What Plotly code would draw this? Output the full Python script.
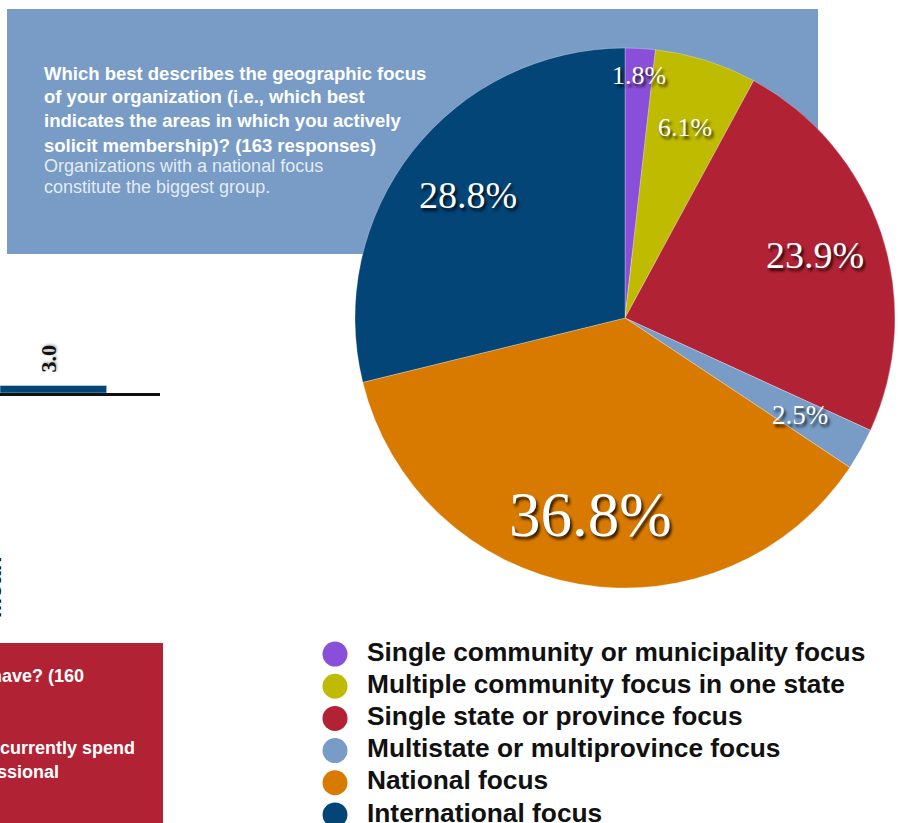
import math
import plotly.graph_objects as go

# geographic focus question, share of 163 responses (%)
labels = [
    "Single community or municipality focus",
    "Multiple community focus in one state",
    "Single state or province focus",
    "Multistate or multiprovince focus",
    "National focus",
    "International focus",
]
values = [1.8, 6.1, 23.9, 2.5, 36.8, 28.8]
colors = ["#8a4fd8", "#bfbb00", "#b22235", "#789cc6", "#d97a00", "#034577"]

# fragment of the neighbouring bar chart
side_bar_value = [3.0]

W, H = 901, 823
CX, CY, R = 625, 318, 270  # pie centre / radius in pixels


def px(x):
    return x / W


def py(y):
    return 1 - y / H


fig = go.Figure()

fig.add_trace(go.Pie(
    labels=labels,
    values=values,
    sort=False,
    direction="clockwise",
    rotation=0,
    marker=dict(colors=colors, line=dict(color="rgba(255,255,255,0.35)", width=0.8)),
    textinfo="none",
    hoverinfo="label+percent",
    showlegend=False,
    domain=dict(x=[px(CX - R), px(CX + R)], y=[py(CY + R), py(CY - R)]),
))

# percentage labels placed on each slice's mid angle
label_sizes = [26, 26, 38, 27, 63, 38]
label_radius = [0.9, 0.74, 0.74, 0.74, 0.74, 0.74]
total = sum(values)
cum = 0
for v, fs, fr in zip(values, label_sizes, label_radius):
    mid = (cum + v / 2) / total * 2 * math.pi
    cum += v
    x = CX + fr * R * math.sin(mid)
    y = CY - fr * R * math.cos(mid)
    fig.add_annotation(
        x=px(x), y=py(y), xref="paper", yref="paper",
        xanchor="center", yanchor="middle",
        text=f"{v:.1f}%", showarrow=False,
        font=dict(family="Liberation Serif", size=fs, color="white",
                  shadow="2px 3px 3px rgba(0,0,0,0.8)"),
    )

# custom legend with big round markers
fig.add_trace(go.Scatter(
    x=[35] * len(labels), y=list(range(len(labels))),
    mode="markers", marker=dict(size=25, color=colors),
    xaxis="x2", yaxis="y2", showlegend=False, hoverinfo="skip",
))
fig.add_trace(go.Scatter(
    x=[67] * len(labels), y=list(range(len(labels))),
    mode="text", text=labels, textposition="middle right",
    textfont=dict(family="Liberation Sans", size=26.3, color="#111111", weight="bold"),
    xaxis="x2", yaxis="y2", showlegend=False, hoverinfo="skip",
))

# neighbouring bar chart fragment
fig.add_trace(go.Bar(
    x=[0.5], y=side_bar_value, width=1,
    marker=dict(color="#034577"),
    xaxis="x3", yaxis="y3", showlegend=False, hoverinfo="skip",
))
fig.add_annotation(
    x=0.45, y=side_bar_value[0], xref="x3", yref="y3",
    xanchor="center", yanchor="bottom", yshift=11, textangle=-90,
    showarrow=False, text=f"{side_bar_value[0]:.1f}",
    font=dict(family="Liberation Serif", size=22, color="#111111", weight="bold",
              shadow="1px 1px 3px rgba(0,0,0,0.4)"),
)

hidden = dict(visible=False, fixedrange=True)

# blue question box
fig.add_shape(type="rect", xref="paper", yref="paper", layer="below",
              x0=px(7), x1=px(818), y0=py(254), y1=py(9),
              fillcolor="#789cc6", line=dict(width=0))
# red box bottom left
fig.add_shape(type="rect", xref="paper", yref="paper", layer="below",
              x0=px(-2), x1=px(163), y0=py(826), y1=py(643),
              fillcolor="#b22235", line=dict(width=0))

question = [
    "Which best describes the geographic focus",
    "of your organization (i.e., which best",
    "indicates the areas in which you actively",
    "solicit membership)? (163 responses)",
]
for i, line in enumerate(question):
    fig.add_annotation(
        x=px(42), y=py(73 + 24 * i), xref="paper", yref="paper",
        xanchor="left", yanchor="middle", showarrow=False, text=line,
        font=dict(family="Liberation Sans", size=18.5, color="white", weight="bold"),
    )
note = ["Organizations with a national focus", "constitute the biggest group."]
for i, line in enumerate(note):
    fig.add_annotation(
        x=px(42), y=py(166 + 21 * i), xref="paper", yref="paper",
        xanchor="left", yanchor="middle", showarrow=False, text=line,
        font=dict(family="Liberation Sans", size=18, color="rgba(255,255,255,0.82)"),
    )

for txt, xr, yc in [("do you have? (160", 86, 676), ("currently spend", 137, 748),
                    ("professional", 61, 772)]:
    fig.add_annotation(
        x=px(xr), y=py(yc), xref="paper", yref="paper", xanchor="right", yanchor="middle",
        showarrow=False, text=txt,
        font=dict(family="Liberation Sans", size=18, color="white", weight="bold"),
    )

fig.add_annotation(
    x=px(-8), y=py(588), xref="paper", yref="paper", textangle=-90,
    xanchor="center", yanchor="middle",
    showarrow=False, text="Mean",
    font=dict(family="Liberation Sans", size=24, color="#111111", weight="bold"),
)

fig.update_layout(
    width=W, height=H,
    margin=dict(l=0, r=0, t=0, b=0),
    paper_bgcolor="white", plot_bgcolor="rgba(0,0,0,0)",
    xaxis2=dict(domain=[px(300), 1], range=[0, 601], **hidden),
    yaxis2=dict(domain=[0, py(638)], range=[5.25, -0.5], **hidden),
    xaxis3=dict(domain=[0, px(160)], range=[0, 1.5], anchor="y3",
                showline=True, linecolor="#111111", linewidth=3,
                showgrid=False, zeroline=False, showticklabels=False, ticks="",
                fixedrange=True),
    yaxis3=dict(domain=[py(393), py(320)], range=[0, 29], anchor="x3",
                visible=False, fixedrange=True),
    xaxis=dict(visible=False),
    yaxis=dict(visible=False),
)

fig.write_html("out.html", config={"displayModeBar": False},
               post_script="document.body.style.margin='0';")
